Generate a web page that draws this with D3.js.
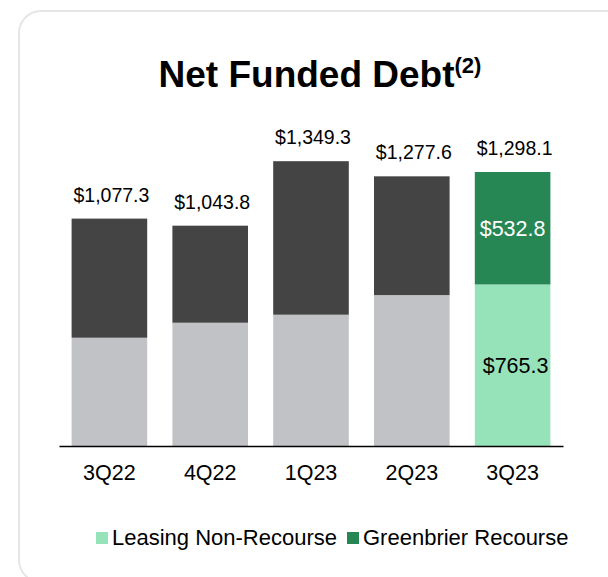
<!DOCTYPE html>
<html>
<head>
<meta charset="utf-8">
<script src="https://cdn.jsdelivr.net/npm/d3@7"></script>
<style>
  html, body { margin: 0; padding: 0; background: #ffffff; }
  svg { display: block; font-family: "Liberation Sans", Arial, sans-serif; }
</style>
</head>
<body>
<svg id="chart" width="608" height="577"></svg>
<script>
// Net funded debt by quarter, $ millions
const quarters = ["3Q22", "4Q22", "1Q23", "2Q23", "3Q23"];
const totals = [1077.3, 1043.8, 1349.3, 1277.6, 1298.1];
const leasingNonRecourse = [513.0, 584.0, 622.0, 715.0, 765.3];
const greenbrierRecourse = [564.3, 459.8, 727.3, 562.6, 532.8];
const legendLabels = ["Leasing Non-Recourse", "Greenbrier Recourse"];

// Earlier quarters are shown in grays, the current quarter in greens
const lowerColors = ["#c1c2c6", "#c1c2c6", "#c1c2c6", "#c1c2c6", "#96e2b9"];
const upperColors = ["#444444", "#444444", "#444444", "#444444", "#268755"];
const legendColors = ["#96e2b9", "#268755"];

const svg = d3.select("#chart");

// Card frame
svg.append("rect")
  .attr("x", 19).attr("y", 11)
  .attr("width", 640).attr("height", 571)
  .attr("rx", 22).attr("ry", 22)
  .attr("fill", "#ffffff")
  .attr("stroke", "#e6e6e6")
  .attr("stroke-width", 2);

// Title with superscript note marker
const title = svg.append("text")
  .attr("x", 320).attr("y", 87)
  .attr("text-anchor", "middle")
  .attr("font-weight", "bold")
  .attr("font-size", 37)
  .attr("fill", "#000000");
title.append("tspan").text("Net Funded Debt");
title.append("tspan").attr("font-size", 22).attr("dy", -14).text("(2)");

const rows = quarters.map((q, i) => ({
  quarter: q,
  lower: leasingNonRecourse[i],
  upper: greenbrierRecourse[i],
  total: totals[i],
  i
}));

const x = d3.scaleBand()
  .domain(quarters)
  .range([59, 563])
  .paddingInner(0.25)
  .paddingOuter(0.125);

const y = d3.scaleLinear()
  .domain([0, 1298.1])
  .range([446, 172]);

const bars = svg.append("g");

bars.selectAll("rect.lower")
  .data(rows).join("rect")
  .attr("class", "lower")
  .attr("x", d => x(d.quarter))
  .attr("width", x.bandwidth())
  .attr("y", d => y(d.lower))
  .attr("height", d => y(0) - y(d.lower))
  .attr("fill", d => lowerColors[d.i]);

bars.selectAll("rect.upper")
  .data(rows).join("rect")
  .attr("class", "upper")
  .attr("x", d => x(d.quarter))
  .attr("width", x.bandwidth())
  .attr("y", d => y(d.lower + d.upper))
  .attr("height", d => y(d.lower) - y(d.lower + d.upper))
  .attr("fill", d => upperColors[d.i]);

// Total labels above each bar
svg.append("g").selectAll("text")
  .data(rows).join("text")
  .attr("x", d => x(d.quarter) + x.bandwidth() / 2 + 2)
  .attr("y", d => y(d.total) - 17)
  .attr("text-anchor", "middle")
  .attr("font-size", 19.5)
  .attr("fill", "#000000")
  .text(d => "$" + d3.format(",.1f")(d.total));

// Segment labels for the current quarter
const last = rows[rows.length - 1];
const cx = x(last.quarter) + x.bandwidth() / 2;
svg.append("text")
  .attr("x", cx)
  .attr("y", (y(last.lower) + y(last.lower + last.upper)) / 2)
  .attr("dy", "0.36em")
  .attr("text-anchor", "middle")
  .attr("font-size", 21.5)
  .attr("fill", "#ffffff")
  .text("$" + d3.format(",.1f")(last.upper));
svg.append("text")
  .attr("x", cx + 3)
  .attr("y", (y(0) + y(last.lower)) / 2)
  .attr("dy", "0.36em")
  .attr("text-anchor", "middle")
  .attr("font-size", 21.5)
  .attr("fill", "#000000")
  .text("$" + d3.format(",.1f")(last.lower));

// Category axis
const axis = svg.append("g")
  .attr("transform", "translate(0,446)")
  .call(d3.axisBottom(x).tickSize(0).tickPadding(19));
axis.select(".domain").attr("stroke", "#000000").attr("stroke-width", 1.5);
axis.selectAll("text")
  .attr("font-family", "Liberation Sans, Arial, sans-serif")
  .attr("font-size", 21.5)
  .attr("fill", "#000000")
  .attr("dy", "0.71em");

// Legend
const legendX = [96, 347];
const legend = svg.append("g").selectAll("g")
  .data(legendLabels).join("g")
  .attr("transform", (d, i) => `translate(${legendX[i]},532)`);
legend.append("rect")
  .attr("width", 12).attr("height", 12)
  .attr("fill", (d, i) => legendColors[i]);
legend.append("text")
  .attr("x", 16).attr("y", 13)
  .attr("font-size", 22)
  .attr("fill", "#000000")
  .text(d => d);
</script>
</body>
</html>
